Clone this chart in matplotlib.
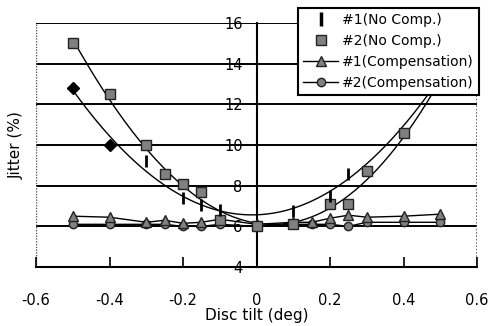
#!/usr/bin/env python3
"""Jitter vs disc tilt, with and without tilt compensation."""
import numpy as np
import matplotlib as mpl
mpl.use("Agg")
import matplotlib.pyplot as plt

mpl.rcParams.update({
    "font.family": "sans-serif", "font.sans-serif": ["DejaVu Sans"],
    "font.size": 10,
})

# ---- data ----
nc1_tilt = [-0.5, -0.4, -0.3, -0.2, -0.15, -0.1, 0.1, 0.2, 0.25]
nc1_jit = [12.8, 10.0, 9.2, 7.4, 7.05, 6.8, 6.75, 7.5, 8.6]

nc2_tilt = [-0.5, -0.4, -0.3, -0.25, -0.2, -0.15, -0.1, 0.0, 0.1, 0.2, 0.25, 0.3, 0.4, 0.5]
nc2_jit = [15.0, 12.5, 10.0, 8.6, 8.1, 7.7, 6.3, 6.0, 6.1, 7.1, 7.1, 8.7, 10.6, 13.0]

c1_tilt = [-0.5, -0.4, -0.3, -0.25, -0.2, -0.15, -0.1, 0.0, 0.1, 0.15, 0.2, 0.25, 0.3, 0.4, 0.5]
c1_jit = [6.5, 6.45, 6.2, 6.3, 6.15, 6.2, 6.35, 6.1, 6.2, 6.2, 6.4, 6.55, 6.45, 6.5, 6.6]

c2_tilt = [-0.5, -0.4, -0.3, -0.25, -0.2, -0.15, -0.1, 0.0, 0.1, 0.15, 0.2, 0.25, 0.3, 0.4, 0.5]
c2_jit = [6.1, 6.1, 6.1, 6.1, 6.0, 6.0, 6.1, 6.0, 6.1, 6.1, 6.1, 6.0, 6.2, 6.2, 6.2]

labels = ["#1(No Comp.)", "#2(No Comp.)", "#1(Compensation)", "#2(Compensation)"]
xticks = [-0.6, -0.4, -0.2, 0, 0.2, 0.4, 0.6]
xticklabels = ["-0.6", "-0.4", "-0.2", "0", "0.2", "0.4", "0.6"]
yticks = [4, 6, 8, 10, 12, 14, 16]

# ---- plot ----
fig = plt.figure(figsize=(4.9, 3.26), dpi=100)
ax = fig.add_axes([0.0735, 0.181, 0.9, 0.748])
ax.set_xlim(-0.6, 0.6)
ax.set_ylim(4, 16)

for y in yticks[1:]:
    ax.axhline(y, color="black", lw=1.4, zorder=1)
ax.axvline(-0.6, color="#555555", lw=1.0, ls=(0, (1, 1)), zorder=1)
ax.axvline(0.6, color="#555555", lw=1.2, ls=(0, (1, 1)), zorder=1)

for side in ["top", "right"]:
    ax.spines[side].set_visible(False)
ax.spines["left"].set_position(("data", 0))
ax.spines["left"].set_linewidth(1.5)
ax.spines["bottom"].set_linewidth(1.5)

# trend lines of the uncompensated series
xs = np.linspace(-0.5, 0.5, 200)
p1 = np.polyfit(nc1_tilt, nc1_jit, 2)
p2 = np.polyfit(nc2_tilt, nc2_jit, 3)
ax.plot(xs, np.polyval(p1, xs), color="black", lw=1.0, zorder=2)
ax.plot(xs, np.polyval(p2, xs), color="black", lw=1.0, zorder=2)

# compensated series
ax.plot(c1_tilt, c1_jit, color="black", lw=1.0, marker="^", ms=7.5,
        mfc="#808080", mec="#222222", mew=1.0, zorder=4, label=labels[2])
ax.plot(c2_tilt, c2_jit, color="black", lw=1.0, marker="o", ms=6,
        mfc="#808080", mec="#222222", mew=1.0, zorder=3, label=labels[3])

# uncompensated markers
ax.plot(nc2_tilt, nc2_jit, ls="none", marker="s", ms=7,
        mfc="#808080", mec="#222222", mew=1.0, zorder=5, label=labels[1])
nc1_marks = ["D", "D"] + ["|"] * (len(nc1_tilt) - 2)
for x, y, m in zip(nc1_tilt, nc1_jit, nc1_marks):
    if m == "D":
        ax.plot(x, y, ls="none", marker="D", ms=6, color="black", zorder=5)
    else:
        ax.plot(x, y, ls="none", marker="|", ms=9, mew=2, color="black", zorder=5)
ax.plot([], [], ls="none", marker="|", ms=10, mew=2.5, color="black", label=labels[0])

ax.set_xticks(xticks)
ax.set_xticklabels(xticklabels)
ax.set_yticks(yticks)
ax.tick_params(axis="x", direction="in", length=7, width=1.2, pad=19, labelsize=10.5)
ax.tick_params(axis="y", length=0, pad=10, labelsize=10.5)
ax.set_xlabel("Disc tilt (deg)", fontsize=11, labelpad=0)
ax.set_ylabel("Jitter (%)", fontsize=11)
ax.yaxis.set_label_coords(-0.028, 0.5)

handles, labs = ax.get_legend_handles_labels()
order = [labs.index(l) for l in labels]
leg = ax.legend([handles[i] for i in order], labels, loc="upper right",
                bbox_to_anchor=(1.004, 1.062), fontsize=10, frameon=True,
                fancybox=False, edgecolor="black", framealpha=1,
                handlelength=2.5, handletextpad=0.3, labelspacing=0.5,
                borderpad=0.35, borderaxespad=0)
leg.get_frame().set_linewidth(1.5)
leg.set_zorder(10)

fig.savefig("out.png", dpi=100)
